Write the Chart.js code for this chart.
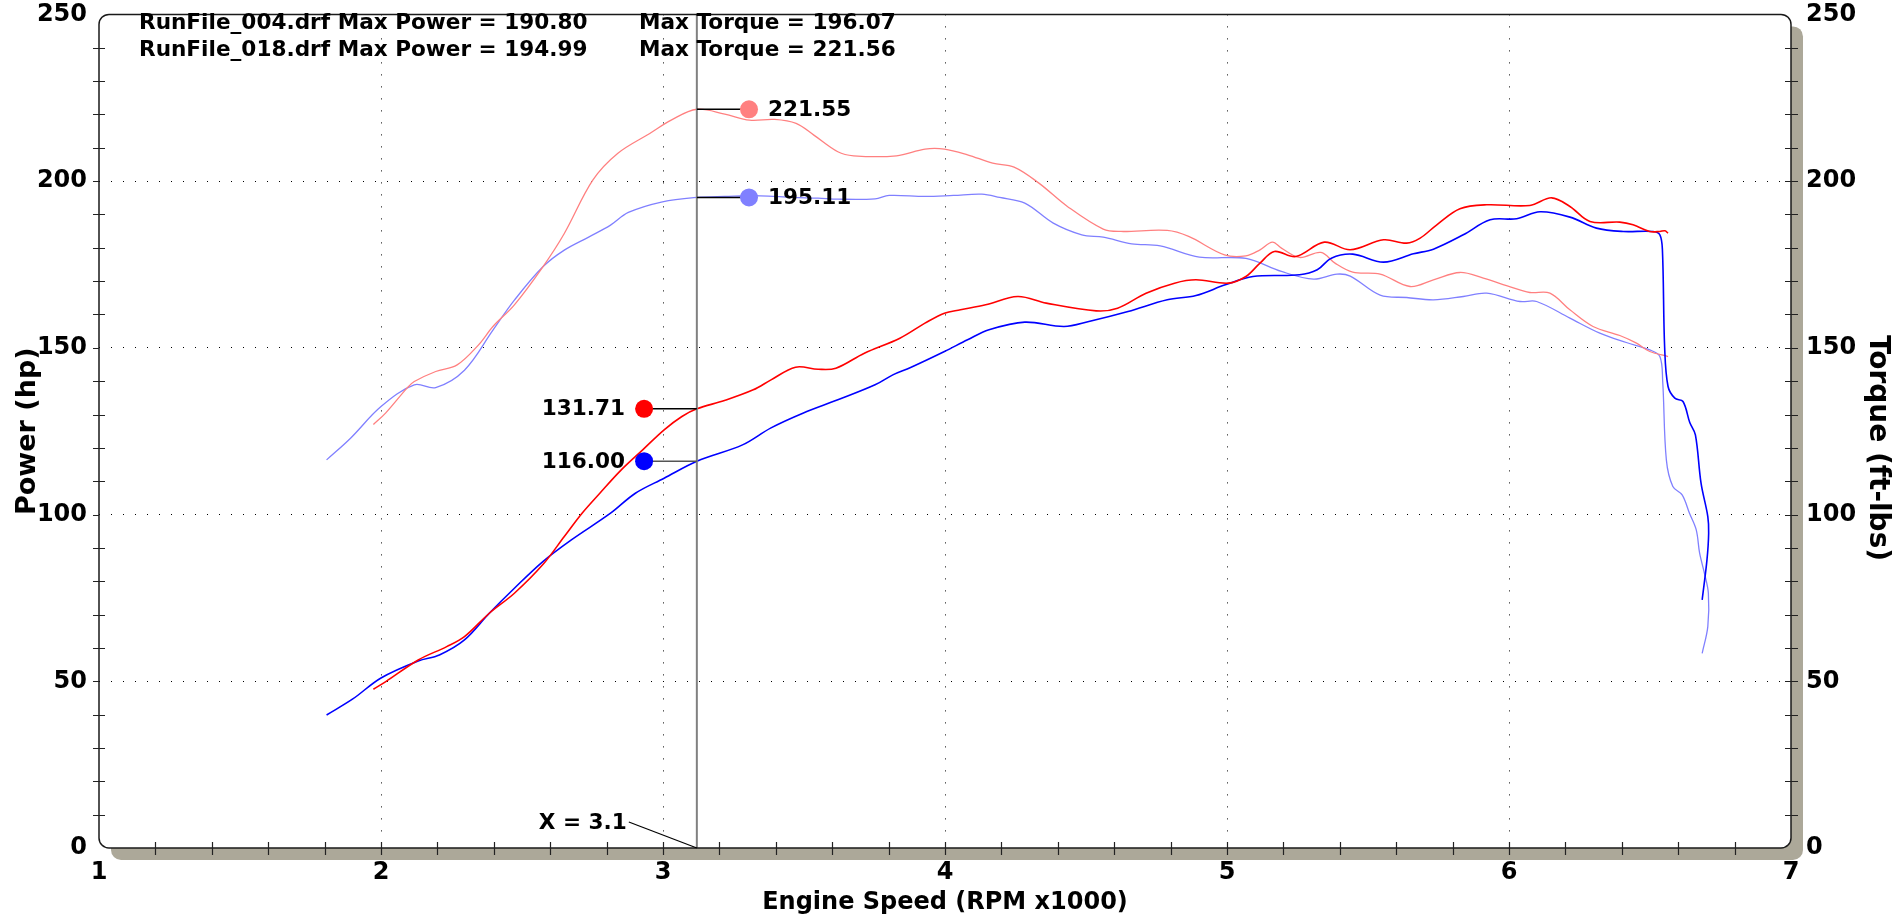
<!DOCTYPE html>
<html>
<head>
<meta charset="utf-8">
<script src="https://cdn.jsdelivr.net/npm/chart.js@4.4.0/dist/chart.umd.min.js"></script>
<style>
html, body { margin: 0; padding: 0; background: #fff; }
</style>
</head>
<body>
<canvas id="dyno" width="1900" height="919"></canvas>
<script>
const FONT = '"DejaVu Sans", Verdana, sans-serif';

// RunFile_004 (blue) - engine speed in RPM x1000
const power004Rpm = [1.807, 1.90, 2.0, 2.132, 2.207, 2.296, 2.384, 2.473, 2.574, 2.675, 2.814, 2.902, 3.004, 3.12, 3.282, 3.383, 3.496, 3.62, 3.752, 3.815, 3.878, 3.998, 4.08, 4.156, 4.283, 4.422, 4.51, 4.649, 4.788, 4.89, 4.994, 5.092, 5.257, 5.32, 5.37, 5.446, 5.555, 5.661, 5.732, 5.838, 5.933, 6.027, 6.11, 6.216, 6.31, 6.405, 6.511, 6.535, 6.544, 6.552, 6.564, 6.588, 6.617, 6.641, 6.661, 6.681, 6.705, 6.708, 6.702, 6.685];
const power004 = [39.9, 44.7, 51.0, 56.1, 57.9, 62.4, 70.4, 77.9, 85.9, 92.4, 100.4, 106.4, 110.9, 116.0, 120.9, 126.0, 130.4, 134.4, 138.9, 141.9, 144.1, 148.9, 152.4, 155.4, 157.7, 156.4, 157.9, 160.9, 164.4, 165.7, 168.9, 171.4, 171.9, 173.4, 176.9, 178.1, 175.7, 178.2, 179.6, 183.9, 188.4, 188.7, 190.8, 189.2, 185.9, 184.9, 184.9, 183.9, 179.4, 150.0, 138.4, 134.9, 133.9, 127.6, 123.9, 109.4, 99.4, 94.4, 86.4, 74.4];
const torque004Rpm = [1.807, 1.892, 2.0, 2.118, 2.194, 2.296, 2.397, 2.473, 2.574, 2.65, 2.738, 2.814, 2.877, 2.998, 3.12, 3.219, 3.345, 3.459, 3.55, 3.62, 3.752, 3.802, 3.929, 4.03, 4.131, 4.194, 4.283, 4.384, 4.485, 4.561, 4.662, 4.763, 4.902, 5.067, 5.193, 5.307, 5.39, 5.437, 5.543, 5.637, 5.732, 5.838, 5.921, 6.039, 6.098, 6.216, 6.322, 6.416, 6.499, 6.535, 6.545, 6.558, 6.581, 6.614, 6.64, 6.664, 6.676, 6.693, 6.707, 6.705, 6.685];
const torque004 = [116.4, 122.9, 132.4, 138.9, 138.1, 143.3, 155.3, 164.3, 174.3, 179.3, 183.3, 186.8, 190.6, 193.8, 195.11, 195.4, 195.6, 195.1, 194.9, 194.6, 194.7, 195.7, 195.4, 195.7, 196.07, 195.1, 193.4, 187.4, 183.9, 183.2, 181.2, 180.6, 177.2, 176.8, 172.9, 170.6, 172.1, 171.5, 165.8, 165.1, 164.4, 165.4, 166.4, 163.9, 163.9, 158.9, 154.4, 151.6, 149.4, 147.4, 140.0, 116.4, 108.4, 105.9, 100.4, 95.4, 88.4, 82.4, 76.4, 66.4, 58.4];

// RunFile_018 (red)
const power018Rpm = [1.973, 2.017, 2.132, 2.233, 2.296, 2.384, 2.473, 2.574, 2.65, 2.713, 2.776, 2.852, 2.928, 3.004, 3.067, 3.12, 3.218, 3.32, 3.383, 3.47, 3.55, 3.613, 3.714, 3.84, 3.929, 3.998, 4.055, 4.144, 4.258, 4.359, 4.536, 4.612, 4.713, 4.814, 4.89, 5.004, 5.067, 5.117, 5.168, 5.244, 5.345, 5.437, 5.555, 5.637, 5.685, 5.744, 5.826, 5.921, 6.074, 6.151, 6.216, 6.287, 6.393, 6.44, 6.499, 6.535, 6.553, 6.564];
const power018 = [47.6, 49.9, 56.4, 60.4, 63.4, 70.4, 76.4, 85.0, 93.4, 100.4, 106.4, 113.4, 119.4, 125.4, 129.4, 131.71, 134.2, 137.4, 140.4, 144.2, 143.6, 143.9, 148.4, 152.9, 157.4, 160.4, 161.4, 162.9, 165.4, 163.4, 161.1, 161.9, 166.4, 169.4, 170.4, 169.4, 171.4, 175.4, 178.9, 177.4, 181.7, 179.4, 182.4, 181.4, 182.9, 186.9, 191.7, 192.9, 192.7, 194.99, 192.4, 187.9, 187.7, 186.9, 184.9, 184.9, 185.1, 184.4];
const torque018Rpm = [1.973, 2.017, 2.093, 2.118, 2.194, 2.27, 2.346, 2.397, 2.473, 2.574, 2.65, 2.751, 2.839, 2.953, 3.029, 3.12, 3.219, 3.307, 3.396, 3.472, 3.535, 3.62, 3.676, 3.828, 3.929, 3.998, 4.08, 4.169, 4.245, 4.333, 4.434, 4.561, 4.624, 4.788, 4.864, 4.991, 5.067, 5.117, 5.161, 5.193, 5.257, 5.333, 5.383, 5.446, 5.543, 5.649, 5.732, 5.826, 5.909, 5.994, 6.074, 6.145, 6.216, 6.298, 6.393, 6.452, 6.499, 6.564];
const torque018 = [127.0, 130.5, 138.0, 139.9, 142.9, 144.9, 150.9, 156.4, 162.9, 174.3, 184.3, 200.3, 208.3, 214.3, 218.3, 221.55, 220.1, 218.3, 218.5, 217.3, 213.8, 208.8, 207.6, 207.6, 209.6, 209.6, 207.9, 205.4, 204.2, 199.4, 192.4, 185.6, 184.9, 185.2, 183.4, 177.9, 177.6, 179.4, 181.7, 179.9, 177.1, 178.6, 175.4, 172.7, 172.1, 168.4, 170.4, 172.6, 170.9, 168.6, 166.6, 166.4, 161.4, 156.4, 153.7, 151.4, 148.9, 147.4];

const headerFiles = ['RunFile_004.drf Max Power = 190.80', 'RunFile_018.drf Max Power = 194.99'];
const headerTorque = ['Max Torque = 196.07', 'Max Torque = 221.56'];
const xTickLabels = ['1', '2', '3', '4', '5', '6', '7'];
const torqueTitle = 'Torque (ft-lbs)';

// cursor readout
const cursorRpm = 3.12;
const cursorText = 'X = 3.1';
const readTorque018 = 221.55;
const readTorque004 = 195.11;
const readPower018 = 131.71;
const readPower004 = 116.00;

const DOT_RIGHT = 3.305;
const DOT_LEFT = 2.933;

function pts(xs, ys) { return xs.map((x, i) => ({ x: x, y: ys[i] })); }

function seg(x1, x2, y) { return [{ x: x1, y: y }, { x: x2, y: y }]; }

function roundPath(ctx, x, y, w, h, r) {
  ctx.beginPath();
  ctx.moveTo(x + r, y);
  ctx.lineTo(x + w - r, y);
  ctx.arcTo(x + w, y, x + w, y + r, r);
  ctx.lineTo(x + w, y + h - r);
  ctx.arcTo(x + w, y + h, x + w - r, y + h, r);
  ctx.lineTo(x + r, y + h);
  ctx.arcTo(x, y + h, x, y + h - r, r);
  ctx.lineTo(x, y + r);
  ctx.arcTo(x, y, x + r, y, r);
  ctx.closePath();
}

const frame = {
  id: 'frame',
  beforeDraw(chart) {
    const ctx = chart.ctx, a = chart.chartArea;
    ctx.save();
    ctx.fillStyle = '#aca899';
    roundPath(ctx, a.left + 12, a.top + 12, a.right - a.left, a.bottom - a.top, 10);
    ctx.fill();
    ctx.fillStyle = '#fff';
    roundPath(ctx, a.left, a.top, a.right - a.left, a.bottom - a.top, 10);
    ctx.fill();
    ctx.restore();
  },
  afterDraw(chart) {
    const ctx = chart.ctx, a = chart.chartArea;
    const sx = chart.scales.x, sy = chart.scales.y;
    ctx.save();
    // plot border
    ctx.strokeStyle = '#1a1a1a';
    ctx.lineWidth = 1.5;
    roundPath(ctx, a.left, a.top, a.right - a.left, a.bottom - a.top, 10);
    ctx.stroke();

    // minor ticks
    ctx.lineWidth = 1.2;
    ctx.strokeStyle = '#222';
    ctx.beginPath();
    for (let i = 1; i < 25; i++) {
      const py = Math.round(sy.getPixelForValue(i * 10)) + 0.5;
      ctx.moveTo(a.left - 6, py);
      ctx.lineTo(i % 5 === 0 ? a.left : a.left + 6, py);
      ctx.moveTo(a.right - 6, py);
      ctx.lineTo(a.right + 7, py);
    }
    for (let i = 1; i < 30; i++) {
      const px = Math.round(sx.getPixelForValue(1 + i * 0.2)) + 0.5;
      ctx.moveTo(px, a.bottom - 6);
      ctx.lineTo(px, a.bottom + 7);
    }
    ctx.stroke();

    // header
    ctx.fillStyle = '#000';
    ctx.font = 'bold 21.6px ' + FONT;
    ctx.textBaseline = 'middle';
    ctx.textAlign = 'left';
    for (let i = 0; i < headerFiles.length; i++) {
      ctx.fillText(headerFiles[i], 139, 23 + i * 27);
      ctx.fillText(headerTorque[i], 639, 23 + i * 27);
    }

    // readout values
    const sy2 = chart.scales.y2;
    const xr = sx.getPixelForValue(DOT_RIGHT) + 19;
    const xl = sx.getPixelForValue(DOT_LEFT) - 19;
    ctx.fillText(readTorque018.toFixed(2), xr, sy2.getPixelForValue(readTorque018) + 1);
    ctx.fillText(readTorque004.toFixed(2), xr, sy2.getPixelForValue(readTorque004) + 1);
    ctx.textAlign = 'right';
    ctx.fillText(readPower018.toFixed(2), xl, sy.getPixelForValue(readPower018) + 1);
    ctx.fillText(readPower004.toFixed(2), xl, sy.getPixelForValue(readPower004) + 1);

    // cursor label
    const cx = sx.getPixelForValue(cursorRpm);
    ctx.fillText(cursorText, cx - 70, a.bottom - 25);
    ctx.strokeStyle = '#000';
    ctx.lineWidth = 1.2;
    ctx.beginPath();
    ctx.moveTo(cx - 68, a.bottom - 26);
    ctx.lineTo(cx, a.bottom);
    ctx.stroke();

    // right axis title, reading top to bottom
    ctx.translate(1877, 448);
    ctx.rotate(Math.PI / 2);
    ctx.textAlign = 'center';
    ctx.font = 'bold 28px ' + FONT;
    ctx.fillText(torqueTitle, 0, 0);
    ctx.restore();
  }
};

const tickFont = { family: FONT, weight: 'bold', size: 24, lineHeight: 1.2 };
const titleFont = { family: FONT, weight: 'bold', size: 24, lineHeight: 1.2 };
const edgeless = (lo, hi) => (c) => (c.tick && (c.tick.value === lo || c.tick.value === hi)) ? 'rgba(0,0,0,0)' : '#000';
const NONE = 'rgba(0,0,0,0)';

new Chart(document.getElementById('dyno'), {
  type: 'line',
  data: {
    datasets: [
      { label: 'dot t018', type: 'scatter', data: [{ x: DOT_RIGHT, y: readTorque018 }], yAxisID: 'y2', pointRadius: 9, pointBackgroundColor: '#ff8080', pointBorderWidth: 0, order: 1 },
      { label: 'dot t004', type: 'scatter', data: [{ x: DOT_RIGHT, y: readTorque004 }], yAxisID: 'y2', pointRadius: 9, pointBackgroundColor: '#8080ff', pointBorderWidth: 0, order: 1 },
      { label: 'dot p018', type: 'scatter', data: [{ x: DOT_LEFT, y: readPower018 }], yAxisID: 'y', pointRadius: 9, pointBackgroundColor: '#ff0000', pointBorderWidth: 0, order: 1 },
      { label: 'dot p004', type: 'scatter', data: [{ x: DOT_LEFT, y: readPower004 }], yAxisID: 'y', pointRadius: 9, pointBackgroundColor: '#0000ff', pointBorderWidth: 0, order: 1 },
      { label: 'lead t018', data: seg(cursorRpm, DOT_RIGHT, readTorque018), yAxisID: 'y2', borderColor: '#000', borderWidth: 1.5, pointRadius: 0, order: 2 },
      { label: 'lead t004', data: seg(cursorRpm, DOT_RIGHT, readTorque004), yAxisID: 'y2', borderColor: '#000', borderWidth: 1.5, pointRadius: 0, order: 2 },
      { label: 'lead p018', data: seg(DOT_LEFT, cursorRpm, readPower018), yAxisID: 'y', borderColor: '#000', borderWidth: 1.5, pointRadius: 0, order: 2 },
      { label: 'lead p004', data: seg(DOT_LEFT, cursorRpm, readPower004), yAxisID: 'y', borderColor: '#555', borderWidth: 1.5, pointRadius: 0, order: 2 },
      { label: 'cursor', data: [{ x: cursorRpm, y: 0 }, { x: cursorRpm, y: 250 }], yAxisID: 'y', borderColor: '#808080', borderWidth: 2, pointRadius: 0, order: 3 },
      { label: 'Power 018', data: pts(power018Rpm, power018), yAxisID: 'y', borderColor: '#ff0000', borderWidth: 1.6, order: 4 },
      { label: 'Power 004', data: pts(power004Rpm, power004), yAxisID: 'y', borderColor: '#0000ff', borderWidth: 1.6, order: 5 },
      { label: 'Torque 018', data: pts(torque018Rpm, torque018), yAxisID: 'y2', borderColor: '#ff8080', borderWidth: 1.3, order: 6 },
      { label: 'Torque 004', data: pts(torque004Rpm, torque004), yAxisID: 'y2', borderColor: '#8080ff', borderWidth: 1.3, order: 7 }
    ]
  },
  options: {
    responsive: false,
    animation: false,
    devicePixelRatio: 1,
    layout: { padding: 0 },
    elements: { point: { radius: 0 }, line: { tension: 0.35, fill: false } },
    plugins: { legend: { display: false }, tooltip: { enabled: false } },
    scales: {
      x: {
        type: 'linear', min: 1, max: 7,
        afterFit(s) { s.height = 71; },
        ticks: { stepSize: 1, autoSkip: false, maxRotation: 0, padding: 10, color: '#000', font: tickFont,
          callback: (v) => xTickLabels[Math.round(v) - 1] },
        grid: { drawTicks: false, lineWidth: 1, color: edgeless(1, 7) },
        border: { display: false, dash: [1, 11] },
        title: { display: true, text: 'Engine Speed (RPM x1000)', color: '#000', font: titleFont, padding: { top: 0, bottom: 2 } }
      },
      y: {
        position: 'left', min: 0, max: 250,
        afterFit(s) { s.width = 99; },
        ticks: { stepSize: 50, padding: 0, color: '#000', font: tickFont },
        grid: { drawTicks: true, tickLength: 12, tickColor: NONE, lineWidth: 1, color: edgeless(0, 250) },
        border: { display: false, dash: [1, 11] },
        title: { display: true, text: 'Power (hp)', color: '#000', font: { family: FONT, weight: 'bold', size: 27, lineHeight: 1.2 }, padding: { top: 12, bottom: 0 } }
      },
      y2: {
        position: 'right', min: 0, max: 250,
        afterFit(s) { s.width = 109; },
        ticks: { stepSize: 50, padding: 0, color: '#000', font: tickFont },
        grid: { drawOnChartArea: false, drawTicks: true, tickLength: 15, tickColor: NONE },
        border: { display: false },
        title: { display: false }
      }
    }
  },
  plugins: [frame]
});
</script>
</body>
</html>
